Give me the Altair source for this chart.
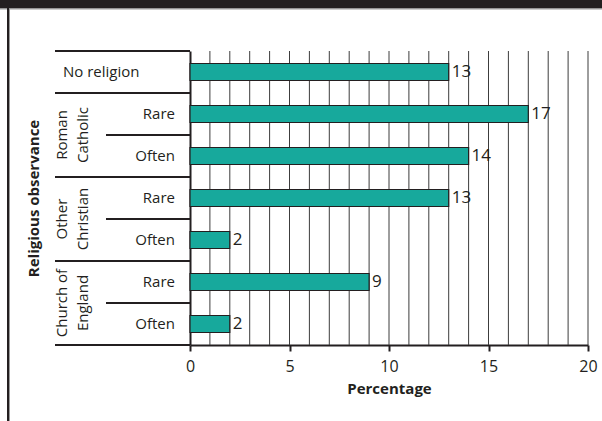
import altair as alt
import pandas as pd

# Religious observance groups, frequency of observance and percentage per row
groups = ["No religion", "Roman Catholic", "Roman Catholic", "Other Christian",
          "Other Christian", "Church of England", "Church of England"]
observance = ["", "Rare", "Often", "Rare", "Often", "Rare", "Often"]
percentages = [13, 17, 14, 13, 2, 9, 2]

# Stacked (two-line) names for the grouped religions
group_names = ["Roman Catholic", "Other Christian", "Church of England"]
group_lines = ["Roman\nCatholic", "Other\nChristian", "Church of\nEngland"]

x_ticks = [0, 5, 10, 15, 20]
grid_steps = list(range(1, 21))

FONT = "Open Sans"
INK = "#231f20"
TEAL = "#17a99c"
W, H = 398, 294
FS = 15

rows = [f"{g}|{o}" for g, o in zip(groups, observance)]
df = pd.DataFrame({"row": rows, "group": groups, "obs": observance, "pct": percentages})

y_scale = alt.Scale(domain=rows, paddingInner=0, paddingOuter=0)


def yrow(band=0.5, **kw):
    return alt.Y("row:N", scale=y_scale, sort=rows, bandPosition=band, **kw)


x_scale = alt.Scale(domain=[0, 20], nice=False, zero=True)

x_axis = alt.Axis(
    values=x_ticks, grid=False, title="Percentage", labelFlush=False,
    labelFont=FONT, labelFontSize=16, labelColor=INK, labelPadding=7,
    tickColor=INK, tickWidth=2, tickSize=6,
    domainColor=INK, domainWidth=2,
    titleFont=FONT, titleFontSize=FS, titleFontWeight="bold", titleColor=INK,
    titlePadding=7,
)
y_axis = alt.Axis(
    labels=False, ticks=False, domain=True, domainColor=INK, domainWidth=2,
    title="Religious observance", titleFont=FONT, titleFontSize=FS,
    titleFontWeight="bold", titleColor=INK, titleAngle=270,
    titleX=-157, titleY=H / 2, titleAlign="center", titleBaseline="middle",
)

# Vertical grid lines at every unit (this layer also carries both axes)
grid = alt.Chart(pd.DataFrame({"g": grid_steps, "row": [rows[0]] * len(grid_steps)})).mark_rule(
    color="#3c3c3c", strokeWidth=1
).encode(
    x=alt.X("g:Q", scale=x_scale, axis=x_axis, title="Percentage"),
    y=yrow(band=0, axis=y_axis, title="Religious observance"),
    y2=alt.value(H),
)

bars = alt.Chart(df).mark_bar(
    height=17, color=TEAL, stroke=INK, strokeWidth=1.2
).encode(
    x=alt.X("pct:Q", scale=x_scale),
    y=yrow(),
)

values = alt.Chart(df).mark_text(
    align="left", baseline="middle", dx=3, fontSize=17, font=FONT, color=INK
).encode(
    x=alt.X("pct:Q", scale=x_scale),
    y=yrow(),
    text=alt.Text("pct:Q", format="d"),
)

# Row labels left of the axis
sub_labels = alt.Chart(df).transform_filter("datum.obs != ''").mark_text(
    align="right", baseline="middle", fontSize=FS, font=FONT, color=INK
).encode(x=alt.value(-15), y=yrow(), text="obs:N")

single_labels = alt.Chart(df).transform_filter("datum.obs == ''").mark_text(
    align="left", baseline="middle", fontSize=FS, font=FONT, color=INK
).encode(x=alt.value(-127), y=yrow(), text="group:N")

gdf = pd.DataFrame({"row": [f"{g}|Rare" for g in group_names], "label": group_lines})
group_labels = alt.Chart(gdf).mark_text(
    angle=270, align="center", baseline="middle", lineBreak="\n",
    fontSize=FS, font=FONT, color=INK, lineHeight=21
).encode(x=alt.value(-128), y=yrow(band=1), text="label:N")

# Separator lines between label groups
full_top = [rows[0], rows[1], rows[3], rows[5]]
short_top = [rows[2], rows[4], rows[6]]
sep_full = alt.Chart(pd.DataFrame({"row": full_top})).mark_rule(
    color=INK, strokeWidth=2
).encode(y=yrow(band=0), x=alt.value(-135), x2=alt.value(0))
sep_bottom = alt.Chart(pd.DataFrame({"row": [rows[6]]})).mark_rule(
    color=INK, strokeWidth=2
).encode(y=yrow(band=1), x=alt.value(-135), x2=alt.value(0))
sep_short = alt.Chart(pd.DataFrame({"row": short_top})).mark_rule(
    color=INK, strokeWidth=2
).encode(y=yrow(band=0), x=alt.value(-84), x2=alt.value(0))

# Frame: dark band across the top and border on the left
frame_df = pd.DataFrame({"k": [0]})
top_band = alt.Chart(frame_df).mark_rect(color=INK).encode(
    x=alt.value(-190), x2=alt.value(W + 14), y=alt.value(-51), y2=alt.value(-42.5)
)
top_line = alt.Chart(frame_df).mark_rule(color="#9a9a9a", strokeWidth=1).encode(
    x=alt.value(-190), x2=alt.value(W + 14), y=alt.value(-42)
)
left_border = alt.Chart(frame_df).mark_rule(color=INK, strokeWidth=2).encode(
    x=alt.value(-182), y=alt.value(-43), y2=alt.value(H + 80)
)
left_border2 = alt.Chart(frame_df).mark_rule(color="#9a9a9a", strokeWidth=1).encode(
    x=alt.value(-180.5), y=alt.value(-42), y2=alt.value(H + 80)
)

chart = alt.layer(
    grid, bars, values, sub_labels, single_labels, group_labels,
    sep_full, sep_bottom, sep_short,
    top_band, top_line, left_border, left_border2,
).properties(
    width=W, height=H,
    autosize=alt.AutoSizeParams(type="none"),
    padding={"left": 190, "top": 51, "right": 14, "bottom": 76},
    background="white",
).configure_view(stroke=None)

chart.save("out.html", embed_options={"renderer": "svg", "actions": False})
